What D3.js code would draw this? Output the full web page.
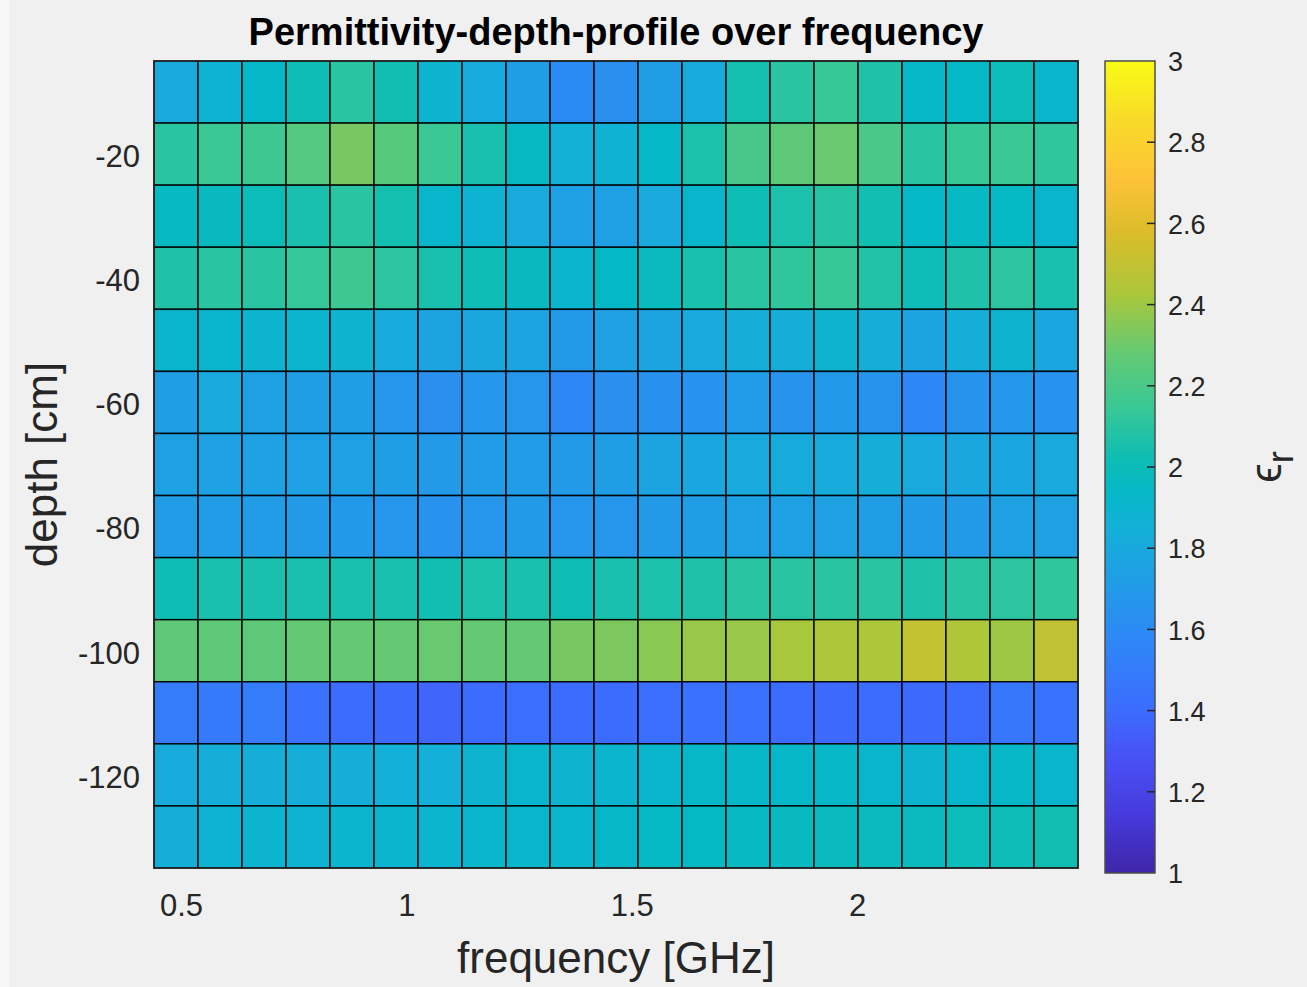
<!DOCTYPE html>
<html>
<head>
<meta charset="utf-8">
<script src="https://cdn.jsdelivr.net/npm/d3@7"></script>
<style>
  html, body { margin: 0; padding: 0; background: #f0f0f0; }
  svg { display: block; }
  text { font-family: "Liberation Sans", Arial, Helvetica, sans-serif; }
</style>
</head>
<body>
<svg id="chart" width="1307" height="987"></svg>
<script>
// Frequency cell edges [GHz] (21 columns)
const freqEdges = [0.4400, 0.5376, 0.6352, 0.7329, 0.8305, 0.9281, 1.0257, 1.1233,
                   1.2210, 1.3186, 1.4162, 1.5138, 1.6114, 1.7090, 1.8067, 1.9043,
                   2.0019, 2.0995, 2.1971, 2.2948, 2.3924, 2.4900];
// Depth layer centres [cm] (13 layers, 10 cm thick)
const depths = [-10, -20, -30, -40, -50, -60, -70, -80, -90, -100, -110, -120, -130];
const layerThickness = 10;

// Relative permittivity per layer (rows) and frequency bin (columns)
const epsR = [
  [1.80, 1.88, 1.93, 2.02, 2.10, 2.03, 1.89, 1.81, 1.73, 1.60, 1.63, 1.73, 1.82, 2.04, 2.10, 2.14, 2.07, 1.93, 1.94, 2.00, 1.92],
  [2.10, 2.15, 2.16, 2.23, 2.32, 2.24, 2.15, 2.05, 1.96, 1.86, 1.87, 1.94, 2.06, 2.19, 2.26, 2.29, 2.20, 2.10, 2.14, 2.15, 2.12],
  [1.96, 1.97, 2.00, 2.05, 2.10, 2.04, 1.92, 1.88, 1.80, 1.74, 1.74, 1.80, 1.92, 2.02, 2.06, 2.09, 2.03, 1.94, 1.96, 1.95, 1.91],
  [2.07, 2.10, 2.10, 2.13, 2.16, 2.11, 2.05, 2.02, 1.97, 1.90, 1.94, 1.98, 2.05, 2.10, 2.12, 2.14, 2.08, 2.01, 2.07, 2.11, 2.05],
  [1.91, 1.91, 1.89, 1.90, 1.89, 1.81, 1.77, 1.79, 1.76, 1.70, 1.75, 1.77, 1.80, 1.84, 1.84, 1.89, 1.84, 1.77, 1.84, 1.89, 1.78],
  [1.73, 1.80, 1.75, 1.73, 1.73, 1.67, 1.63, 1.68, 1.67, 1.58, 1.63, 1.64, 1.65, 1.71, 1.66, 1.69, 1.66, 1.58, 1.66, 1.68, 1.65],
  [1.75, 1.75, 1.75, 1.74, 1.74, 1.73, 1.70, 1.72, 1.72, 1.70, 1.73, 1.77, 1.78, 1.80, 1.82, 1.82, 1.84, 1.80, 1.79, 1.78, 1.80],
  [1.72, 1.71, 1.71, 1.70, 1.69, 1.67, 1.65, 1.67, 1.70, 1.67, 1.67, 1.70, 1.73, 1.74, 1.74, 1.75, 1.73, 1.70, 1.70, 1.75, 1.75],
  [2.02, 2.05, 2.05, 2.05, 2.05, 2.05, 2.03, 2.06, 2.05, 2.02, 2.05, 2.06, 2.07, 2.10, 2.10, 2.10, 2.10, 2.07, 2.10, 2.11, 2.12],
  [2.26, 2.26, 2.26, 2.28, 2.28, 2.28, 2.29, 2.28, 2.28, 2.32, 2.33, 2.36, 2.39, 2.39, 2.42, 2.43, 2.43, 2.50, 2.44, 2.40, 2.49],
  [1.50, 1.49, 1.50, 1.43, 1.40, 1.39, 1.37, 1.40, 1.41, 1.40, 1.40, 1.41, 1.43, 1.43, 1.40, 1.39, 1.40, 1.39, 1.40, 1.47, 1.44],
  [1.82, 1.84, 1.84, 1.84, 1.84, 1.85, 1.85, 1.89, 1.91, 1.89, 1.90, 1.92, 1.93, 1.93, 1.93, 1.93, 1.92, 1.89, 1.92, 1.93, 1.91],
  [1.84, 1.88, 1.89, 1.88, 1.90, 1.90, 1.90, 1.92, 1.92, 1.92, 1.93, 1.95, 1.95, 1.96, 1.97, 1.98, 1.98, 1.98, 2.00, 2.01, 2.03]
];

// Axis tick values and colour limits
const freqTicks = [0.5, 1, 1.5, 2];
const depthTicks = [-20, -40, -60, -80, -100, -120];
const colorTicks = [1, 1.2, 1.4, 1.6, 1.8, 2, 2.2, 2.4, 2.6, 2.8, 3];
const cLimits = [1, 3];

// Parula colour map, given as [fraction, colour] stops
const parulaStops = [
  [0.000, "#3e26a8"], [0.070, "#463adc"], [0.143, "#4852f4"], [0.200, "#3c6cfe"],
  [0.286, "#2e87f7"], [0.360, "#209de6"], [0.429, "#12b1d6"], [0.470, "#04b8c6"],
  [0.510, "#0ebdb4"], [0.571, "#37c897"], [0.640, "#64c973"], [0.714, "#abc739"],
  [0.790, "#dcbc2a"], [0.857, "#fec338"], [0.930, "#f8dc28"], [1.000, "#f9fb15"]
];

const W = 1307, H = 987;
const plot = { left: 154, right: 1078, top: 61, bottom: 868 };
const cbar = { left: 1105, right: 1155, top: 61, bottom: 873 };

// Plain hyphen for negative numbers
const fmt = d => d3.format("~g")(d).replace("\u2212", "-");

const svg = d3.select("#chart");
svg.append("rect").attr("width", W).attr("height", H).attr("fill", "#f0f0f0");
svg.append("rect").attr("width", 9).attr("height", H).attr("fill", "#f7f7f7");

const x = d3.scaleLinear().domain([freqEdges[0], freqEdges[freqEdges.length - 1]])
  .range([plot.left, plot.right]);
const y = d3.scaleLinear()
  .domain([depths[depths.length - 1] - layerThickness / 2, depths[0] + layerThickness / 2])
  .range([plot.bottom, plot.top]);

const color = d3.scaleLinear()
  .domain(parulaStops.map(s => cLimits[0] + s[0] * (cLimits[1] - cLimits[0])))
  .range(parulaStops.map(s => s[1]))
  .interpolate(d3.interpolateRgb)
  .clamp(true);

// Cells
const cells = [];
epsR.forEach((row, i) => {
  row.forEach((v, j) => {
    cells.push({ f0: freqEdges[j], f1: freqEdges[j + 1],
                 d0: depths[i] + layerThickness / 2, d1: depths[i] - layerThickness / 2, v });
  });
});

svg.append("g").attr("class", "cells")
  .selectAll("rect").data(cells).join("rect")
  .attr("x", d => x(d.f0))
  .attr("y", d => y(d.d0))
  .attr("width", d => x(d.f1) - x(d.f0))
  .attr("height", d => y(d.d1) - y(d.d0))
  .attr("fill", d => color(d.v))
  .attr("stroke", "#000")
  .attr("stroke-opacity", 0.9)
  .attr("stroke-width", 1.5);

// Axes box
svg.append("rect")
  .attr("x", plot.left).attr("y", plot.top)
  .attr("width", plot.right - plot.left).attr("height", plot.bottom - plot.top)
  .attr("fill", "none").attr("stroke", "#262626").attr("stroke-width", 1.5);

// X axis labels
const xAxis = d3.axisBottom(x).tickValues(freqTicks).tickSize(0).tickPadding(0)
  .tickFormat(fmt);
const gx = svg.append("g").attr("transform", `translate(0,${plot.bottom + 26})`).call(xAxis);
gx.select(".domain").remove();
gx.selectAll("text").attr("font-size", 31).attr("fill", "#262626")
  .attr("font-family", "'Liberation Sans', Arial, sans-serif").attr("dy", "0.71em");

// Y axis labels
const yAxis = d3.axisLeft(y).tickValues(depthTicks).tickSize(0).tickPadding(14)
  .tickFormat(fmt);
const gy = svg.append("g").attr("transform", `translate(${plot.left},0)`).call(yAxis);
gy.select(".domain").remove();
gy.selectAll("text").attr("font-size", 31).attr("fill", "#262626")
  .attr("font-family", "'Liberation Sans', Arial, sans-serif").attr("dy", "0.4em");

// Title and axis titles
svg.append("text")
  .attr("x", (plot.left + plot.right) / 2).attr("y", 45)
  .attr("text-anchor", "middle").attr("font-weight", "bold").attr("font-size", 38)
  .attr("fill", "#000")
  .text("Permittivity-depth-profile over frequency");

svg.append("text")
  .attr("x", (plot.left + plot.right) / 2).attr("y", 973)
  .attr("text-anchor", "middle").attr("font-size", 44).attr("fill", "#262626")
  .text("frequency [GHz]");

svg.append("text")
  .attr("transform", `translate(57,${(plot.top + plot.bottom) / 2}) rotate(-90)`)
  .attr("text-anchor", "middle").attr("font-size", 44).attr("fill", "#262626")
  .text("depth [cm]");

// Colour bar
const cb = d3.scaleLinear().domain(cLimits).range([cbar.bottom, cbar.top]);
const defs = svg.append("defs");
const grad = defs.append("linearGradient").attr("id", "parula")
  .attr("x1", 0).attr("y1", 1).attr("x2", 0).attr("y2", 0);
grad.selectAll("stop").data(parulaStops).join("stop")
  .attr("offset", d => d[0]).attr("stop-color", d => d[1]);

svg.append("rect")
  .attr("x", cbar.left).attr("y", cbar.top)
  .attr("width", cbar.right - cbar.left).attr("height", cbar.bottom - cbar.top)
  .attr("fill", "url(#parula)")
  .attr("stroke", "#4d4d4d").attr("stroke-width", 1.5);

const cbAxis = d3.axisRight(cb).tickValues(colorTicks).tickSize(0).tickPadding(13)
  .tickFormat(fmt);
const gc = svg.append("g").attr("transform", `translate(${cbar.right},0)`).call(cbAxis);
gc.select(".domain").remove();
gc.selectAll("text").attr("font-size", 27).attr("fill", "#262626")
  .attr("font-family", "'Liberation Sans', Arial, sans-serif").attr("dy", "0.36em");

// Inward tick marks on the colour bar
svg.append("g").selectAll("line").data(colorTicks.slice(1, -1)).join("line")
  .attr("x1", cbar.right - 8).attr("x2", cbar.right)
  .attr("y1", d => cb(d)).attr("y2", d => cb(d))
  .attr("stroke", "#262626").attr("stroke-width", 1.5);

// Colour bar label: epsilon_r
const lab = svg.append("text")
  .attr("transform", `translate(1281,${(cbar.top + cbar.bottom) / 2}) rotate(-90)`)
  .attr("text-anchor", "middle").attr("font-size", 44).attr("fill", "#262626");
lab.append("tspan").text("\u03F5");
lab.append("tspan").attr("font-size", 36).attr("dy", 12).text("r");
</script>
</body>
</html>
